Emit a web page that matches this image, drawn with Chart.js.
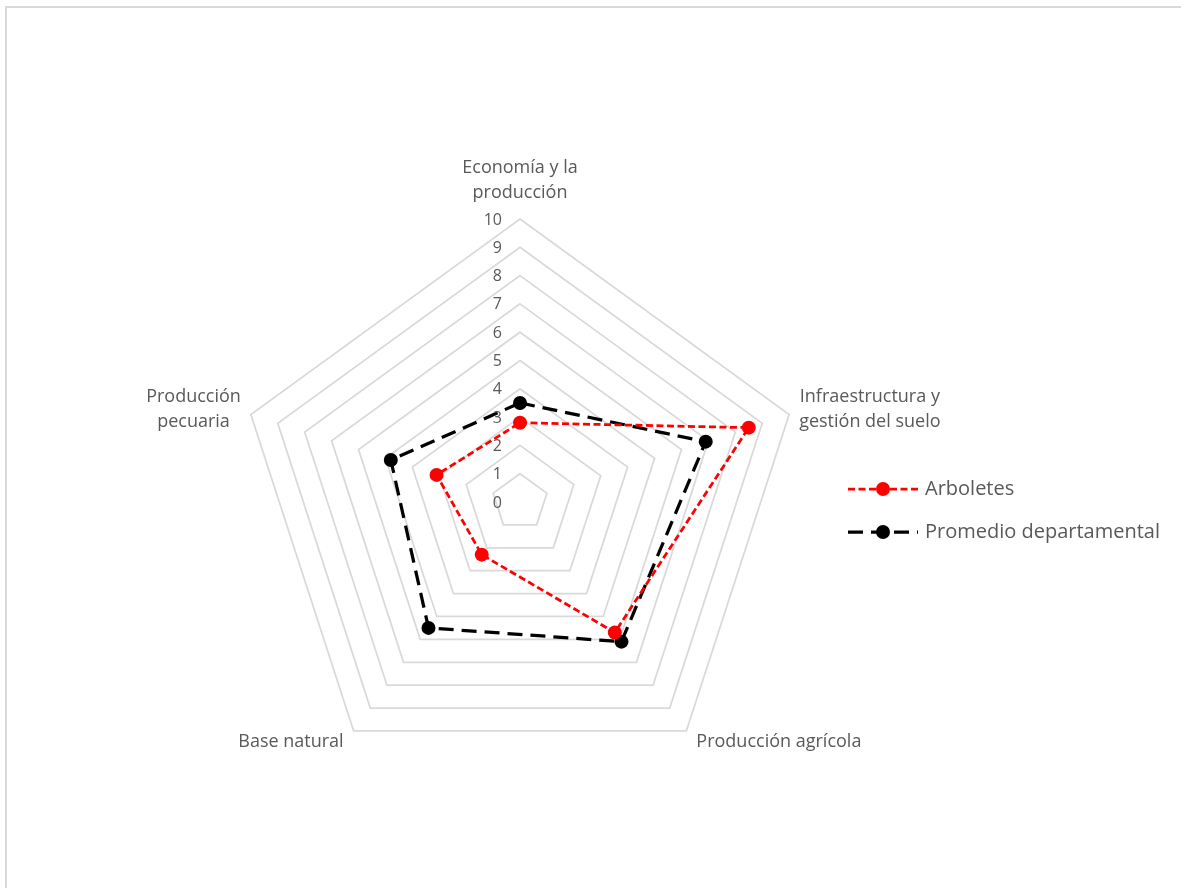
<!DOCTYPE html>
<html>
<head>
<meta charset="utf-8">
<script src="https://cdn.jsdelivr.net/npm/chart.js@4/dist/chart.umd.min.js"></script>
<style>
  html, body { margin: 0; padding: 0; background: #fff; overflow: hidden; }
  #frame { position: absolute; left: 5px; top: 6px; width: 1200px; height: 900px; border: 2px solid #d9d9d9; }
  #radar { position: absolute; left: 0; top: 0; }
</style>
</head>
<body>
<div id="frame"></div>
<canvas id="radar" width="1181" height="888"></canvas>
<script>
	var categories = [
		['Economía y la', 'producción'],
		['Infraestructura y', 'gestión del suelo'],
		['Producción agrícola'],
		['Base natural'],
		['Producción', 'pecuaria']
	];
	var arboletes = [2.8, 8.5, 5.7, 2.3, 3.1];
	var promedio = [3.5, 6.9, 6.1, 5.5, 4.8];
	var seriesNames = ['Arboletes', 'Promedio departamental'];
	var tickValues = [0, 1, 2, 3, 4, 5, 6, 7, 8, 9, 10];

	var FONT = '"Open Sans", sans-serif';
	var GREY = '#595959';

	// axis titles + value ticks + legend, all placed from the r scale
	const radarText = {
		id: 'radarText',
		afterDraw(chart) {
			const ctx = chart.ctx;
			const r = chart.scales.r;
			ctx.save();
			ctx.fillStyle = GREY;

			// value ticks, left of the vertical axis
			ctx.font = '16px ' + FONT;
			ctx.textAlign = 'right';
			ctx.textBaseline = 'middle';
			tickValues.forEach(v => {
				const d = r.getDistanceFromCenterForValue(v);
				ctx.fillText(String(v), r.xCenter - 18, r.yCenter - d + 1);
			});

			// category labels around the outside
			ctx.font = '18px ' + FONT;
			const lh = 25;
			categories.forEach((lines, i) => {
				const p = r.getPointPosition(i, r.drawingArea);
				const dx = p.x - r.xCenter;
				const w = Math.max(...lines.map(t => ctx.measureText(t).width));
				let cx = p.x;
				if (dx > 1) cx = p.x + 10 + w / 2;
				else if (dx < -1) cx = p.x - 10 - w / 2;
				const h = lines.length * lh;
				let top;
				if (p.y < r.yCenter - r.drawingArea * 0.9) top = p.y - 14 - h;
				else if (p.y < r.yCenter) top = p.y - 5 - h / 2;
				else top = p.y - 2;
				ctx.textAlign = 'center';
				lines.forEach((t, k) => ctx.fillText(t, cx, top + lh * k + lh / 2));
			});

			// legend: dashed sample line with the marker in the middle
			chart.data.datasets.forEach((ds, i) => {
				const y = 489 + i * 43;
				ctx.strokeStyle = ds.borderColor;
				ctx.lineWidth = ds.borderWidth;
				ctx.setLineDash(ds.borderDash);
				ctx.beginPath();
				ctx.moveTo(848, y);
				ctx.lineTo(918, y);
				ctx.stroke();
				ctx.setLineDash([]);
				ctx.fillStyle = ds.pointBackgroundColor;
				ctx.beginPath();
				ctx.arc(883, y, ds.pointRadius, 0, Math.PI * 2);
				ctx.fill();
				ctx.fillStyle = GREY;
				ctx.font = '20px ' + FONT;
				ctx.textAlign = 'left';
				ctx.fillText(ds.label, 925, y);
			});
			ctx.restore();
		}
	};

	var ctx = document.getElementById('radar').getContext('2d');
	var myChart = new Chart(ctx, {
		type: 'radar',
		data: {
			labels: categories,
			datasets: [{
				label: seriesNames[0],
				data: arboletes,
				borderColor: '#ff0000',
				borderWidth: 2.75,
				borderDash: [7, 3.5],
				pointRadius: 7,
				pointBackgroundColor: '#ff0000',
				pointBorderColor: '#ff0000',
				pointBorderWidth: 0,
				fill: false
			}, {
				label: seriesNames[1],
				data: promedio,
				borderColor: '#000000',
				borderWidth: 3.25,
				borderDash: [15, 8],
				pointRadius: 7,
				pointBackgroundColor: '#000000',
				pointBorderColor: '#000000',
				pointBorderWidth: 0,
				fill: false
			}]
		},
		options: {
			responsive: false,
			animation: false,
			layout: { padding: { left: 237, top: 219, right: 378, bottom: 103 } },
			elements: { line: { tension: 0 } },
			plugins: {
				legend: { display: false },
				tooltip: { enabled: false }
			},
			scales: {
				r: {
					min: 0,
					max: 10,
					ticks: { display: false, stepSize: 1 },
					pointLabels: { display: false },
					angleLines: { display: false },
					grid: { color: '#d9d9d9', lineWidth: 1.75 }
				}
			}
		},
		plugins: [radarText]
	});
</script>
</body>
</html>
